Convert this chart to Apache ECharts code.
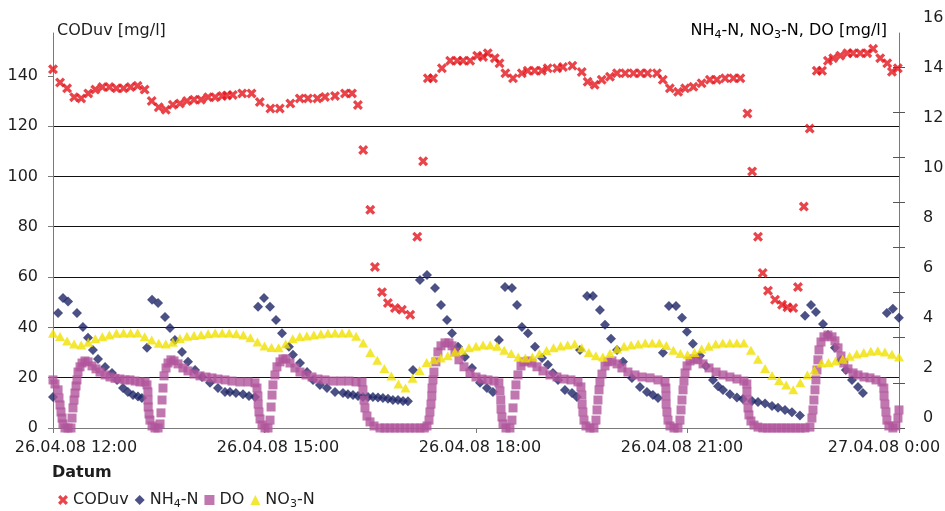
<!DOCTYPE html>
<html>
<head>
<meta charset="utf-8">
<script src="https://cdn.jsdelivr.net/npm/echarts@6.0.0/dist/echarts.min.js"></script>
<style>
  html, body { margin: 0; padding: 0; background: #fff; }
  #chart-container { width: 945px; height: 511px; }
</style>
</head>
<body>
<div id="chart-container"></div>
<script>
// time is in minutes after 26.04.08 12:00
var xTickLabels = ["26.04.08 12:00", "26.04.08 15:00", "26.04.08 18:00", "26.04.08 21:00", "27.04.08 0:00"];
var leftTicks = [0, 20, 40, 60, 80, 100, 120, 140];
var rightTicks = [0, 2, 4, 6, 8, 10, 12, 14, 16];

// CODuv [mg/l], left axis
var codPoints = [
  [0,142.6],[6,137.3],[12,135],[18,131.5],[24,131],[30,133],[36,134.5],[42,135.5],[48,135.5],[54,135],
  [60,135],[66,135.5],[72,136],[78,134.5],[84,130],[90,127.5],[96,126.5],[102,128.5],[108,129],[114,130],
  [120,130.5],[126,130.5],[132,131.5],[138,131.5],[144,132],[148,132.2],[153,132.4],[161,133],[169,133],[176,129.6],
  [185,127],[193,127],[202,129],[210,131],[217,131],[225,131],[231.5,131.6],[240,132],[248.5,133],[254.5,133],
  [259.5,128.4],[264,110.5],[270,86.7],[274,64],[280,54],[285,49.7],[291,47.7],[297,47],[304,45],[310,76],
  [315,106],[319,139],[323.5,139],[331,143],[338,146],[344,146],[349,146],[355,146],[361,148],[366,147.5],
  [370,149],[376,147],[380,145],[385,141],[391.5,139],[399,141],[404,142],[410,142],[416,142],[421,143],
  [429,143],[434,143.5],[442,144],[450,141.5],[455,137.6],[461,136.4],[467,138.4],[474,139.6],[480,141],[487,141],
  [494,141],[500,141],[506,141],[514,141],[519,138.4],[525,135],[532,133.6],[538,135],[545,135.6],[552,137],
  [559,138.4],[565,138.4],[572,139],[579,139],[585,139],[591,125],[595,102],[600,76],[604,61.6],[608.5,54.6],
  [614.5,51],[620.5,49],[625,48],[630,47.7],[634,56],[639,88],[644,119],[650,142],[654.5,142],[659.5,146],
  [664,147],[670,148],[676,149],[681,149],[687,149],[693,149],[698,150.7],[704,147],[710,145],[714,141.6],[719,143]
];

// NH4-N [mg/l], right axis
var nh4Points = [
  [0,1.37],[4.3,5.1],[8.5,5.76],[12.8,5.6],[20.4,5.1],[25.5,4.48],[29.8,4.0],[34,3.46],[38.3,3.06],[44.3,2.7],
  [50.2,2.44],[54.5,2.13],[59.6,1.77],[63.8,1.6],[68.1,1.46],[72.3,1.4],[75.7,1.33],
  [80,3.55],[84.3,5.68],[89.4,5.54],[95.3,4.92],[99.6,4.43],[103.8,3.9],[109.8,3.37],[114.9,2.93],[120.9,2.57],
  [126.8,2.26],[133.6,2.0],[140.4,1.77],[146.4,1.6],[150.6,1.6],[155.7,1.55],[161.7,1.5],[166.8,1.42],[171.9,1.37],
  [174.5,5.37],[179.6,5.76],[184.7,5.37],[189.8,4.79],[194.9,4.2],[200.8,3.6],[204.2,3.24],[210.2,2.88],[216.2,2.48],
  [221.3,2.13],[227.2,1.9],[233.2,1.77],[240,1.6],[246.8,1.55],[251,1.5],[255.3,1.46],[259.6,1.42],[263.8,1.37],
  [268.1,1.37],[272.3,1.37],[276.6,1.35],[280.8,1.33],[285.1,1.3],[289.3,1.24],[293.6,1.24],[297.9,1.2],[302.1,1.18],
  [306.4,2.57],[312.3,6.56],[318.3,6.78],[325.1,6.2],[330.2,5.45],[335.3,4.79],[339.6,4.2],[344.7,3.6],[350.6,3.15],
  [356.6,2.66],[363.4,2.0],[369.3,1.77],[374.4,1.6],
  [379.5,3.9],[384.7,6.25],[390.6,6.2],[394.9,5.45],[399.1,4.48],[404.2,4.2],[410.2,3.6],[416.2,3.1],[421.2,2.8],
  [425.5,2.44],[429.8,2.13],[435.7,1.68],[441.7,1.55],[445.9,1.37],
  [448.5,3.46],[454.5,5.85],[459.5,5.85],[465.5,5.23],[469.8,4.57],[474.9,3.95],[480,3.46],[485.1,2.93],[492.7,2.22],
  [499.5,1.82],[505.5,1.6],[510.6,1.46],[514.9,1.33],
  [519.1,3.33],[524.2,5.41],[530.2,5.41],[535.3,4.88],[539.5,4.26],[544.6,3.73],[550.6,3.2],[555.7,2.75],[561.7,2.13],
  [566,1.85],[570.2,1.68],[576.1,1.5],[582.1,1.35],[587.2,1.28],[594.9,1.2],[600,1.15],[606,1.08],[611.9,0.98],
  [617,0.9],[623,0.8],[628.9,0.7],[635.7,0.55],
  [640,4.97],[645.1,5.45],[649.3,5.14],[655.3,4.61],[659.5,4.12],[665.5,3.55],[670.6,3.0],[674.8,2.57],[680,2.13],
  [685.1,1.82],[689.3,1.55],
  [709.7,5.1],[714.8,5.28],[719.9,4.88]
];

// DO [mg/l], right axis
var doPoints = [
  [0,2.13],[1.7,1.95],[4.3,1.69],[5.1,1.33],[6.0,1.02],[6.8,0.71],[7.7,0.44],[8.5,0.18],[10.2,0],[12.8,0],
  [15.3,0],[16.2,0.44],[17.0,0.89],[17.9,1.24],[18.7,1.55],[19.6,1.86],[20.4,2.13],[21.3,2.48],[23.0,2.71],[24.7,2.88],
  [27.2,2.97],[29.8,2.93],[33.2,2.75],[36.6,2.62],[40.0,2.48],[44.3,2.35],[48.5,2.26],[52.8,2.2],[57.0,2.17],[61.3,2.13],
  [65.5,2.13],[69.8,2.08],[74.0,2.04],[78.3,2.04],[80.0,1.91],[80.8,1.6],[80.9,1.24],[81.0,0.93],[81.7,0.62],[82.5,0.35],
  [84.3,0.09],[86.8,0],[89.4,0],[91.1,0.18],[91.9,0.67],[92.8,1.24],[93.6,1.77],[94.5,2.31],[96.2,2.66],[97.9,2.88],
  [100.4,3.02],[103.0,2.97],[106.4,2.84],[110.6,2.66],[114.9,2.53],[120.0,2.39],[125.1,2.31],[130.2,2.26],[135.3,2.22],
  [140.4,2.17],[146.4,2.13],[152.3,2.08],[159.1,2.04],[166.0,2.04],[171.9,2.0],[173.6,1.77],[174.4,1.42],[174.6,1.06],
  [175.3,0.71],[176.2,0.4],[177.9,0.13],[180.4,0],[183.0,0],[184.7,0.35],[185.6,0.93],[186.4,1.46],[187.2,1.91],
  [188.9,2.35],[190.6,2.71],[193.2,2.93],[195.7,3.06],[198.3,3.06],[201.7,2.88],[205.9,2.66],[210.2,2.48],[215.3,2.35],
  [220.4,2.26],[225.5,2.17],[231.5,2.13],[238.3,2.08],[245.1,2.08],[251.9,2.08],[257.9,2.04],[263.0,2.04],[263.8,1.69],
  [264.7,1.24],[265.5,0.89],[267.2,0.53],[269.8,0.27],[273.2,0.09],[278.3,0],[282.5,0],[286.8,0],[291,0],[295.3,0],
  [299.5,0],[303.8,0],[308,0],[312.3,0],[316,0],[318.3,0.09],[320.0,0.35],[320.8,0.71],[321.7,1.06],[322.4,1.42],
  [322.6,1.77],[323.4,2.13],[324.2,2.48],[325.9,2.93],[327.6,3.37],[330.2,3.64],[333.6,3.77],[337.0,3.77],[339.6,3.64],
  [342.1,3.37],[345.5,3.02],[349.8,2.71],[354.9,2.44],[360.0,2.26],[365.1,2.17],[370.2,2.13],[375.3,2.08],[379.5,2.0],
  [380.4,1.64],[381.1,1.24],[381.3,0.84],[382.1,0.49],[383.0,0.18],[385.5,0],[388.9,0],[390.6,0.35],[391.5,0.89],
  [393.2,1.46],[394.0,1.91],[395.7,2.35],[398.3,2.75],[400.8,2.93],[404.2,2.97],[407.6,2.88],[411.9,2.71],[417.0,2.53],
  [423.0,2.35],[428.9,2.26],[434.9,2.17],[440.8,2.13],[446.8,2.04],[449.3,1.82],[450.1,1.46],[450.3,1.06],[451.0,0.71],
  [451.9,0.35],[453.6,0.09],[457.0,0],[460.4,0],[462.1,0.35],[463.0,0.8],[463.8,1.24],[464.7,1.69],[465.5,2.04],
  [467.2,2.39],[469.8,2.75],[472.3,2.93],[475.7,2.97],[480.0,2.84],[484.2,2.66],[489.3,2.48],[495.3,2.35],[501.3,2.26],
  [508.1,2.22],[514.9,2.13],[520.8,2.04],[521.6,1.77],[521.7,1.42],[521.8,1.06],[522.5,0.71],[523.4,0.35],[525.1,0.09],
  [528.5,0],[531.9,0],[533.6,0.35],[534.5,0.8],[535.3,1.24],[536.2,1.69],[537.0,2.08],[537.9,2.44],[539.6,2.75],
  [542.1,2.97],[545.5,3.06],[548.9,3.02],[553.2,2.84],[558.3,2.66],[564.3,2.48],[570.2,2.35],[576.1,2.26],[582.1,2.17],
  [588.0,2.08],[590.5,1.95],[590.6,1.6],[590.7,1.24],[591.5,0.89],[592.3,0.58],[594.0,0.31],[596.6,0.13],[600.0,0.04],
  [604,0],[608,0],[612,0],[616,0],[620,0],[624,0],[628,0],[632,0],[636,0],[640,0],
  [644.2,0.04],[645.9,0.44],[646.8,0.8],[647.6,1.24],[648.5,1.69],[649.3,2.13],[650.2,2.57],[651.0,3.02],[651.9,3.46],
  [653.6,3.81],[656.1,4.04],[659.5,4.12],[663.0,4.04],[665.5,3.86],[668.1,3.55],[670.6,3.19],[673.1,2.88],[676.6,2.62],
  [680.9,2.44],[685.1,2.35],[690.2,2.26],[695.3,2.22],[700.4,2.13],[705.5,2.04],[707.1,1.77],[707.3,1.42],[708.0,1.06],
  [708.9,0.71],[709.7,0.35],[711.4,0.09],[714.8,0],[717.3,0.09],[719.1,0.44],[720,0.8]
];

// NO3-N [mg/l], right axis
var no3Points = [
  [0,4.2],[6,4.05],[12,3.85],[18,3.72],[24,3.68],[30,3.8],[36,3.95],[42,4.04],[48,4.12],[54,4.2],
  [60,4.21],[66,4.21],[72,4.21],[78,4.04],[84,3.9],[90,3.76],[96,3.72],[102,3.8],[108,3.97],[114,4.07],
  [120,4.1],[126,4.13],[132,4.18],[138,4.21],[144,4.21],[150,4.21],[156,4.18],[162,4.12],[168,4.0],[174,3.81],
  [180,3.63],[186,3.57],[192,3.55],[198,3.72],[204,3.95],[210,4.05],[216,4.08],[222,4.12],[228,4.16],[234,4.2],
  [240,4.21],[246,4.21],[252,4.21],[258,4.06],[264,3.77],[270,3.35],[276,3.0],[282,2.64],[288,2.3],[294,1.95],
  [300,1.77],[306,2.2],[312,2.55],[318,2.9],[324,3.02],[330,3.1],[336,3.2],[342,3.37],[348,3.45],[354,3.55],
  [360,3.62],[366,3.68],[372,3.68],[378,3.62],[384,3.45],[390,3.3],[396,3.15],[402,3.1],[408,3.15],[414,3.3],
  [420,3.43],[426,3.55],[432,3.63],[438,3.68],[444,3.72],[450,3.55],[456,3.35],[462,3.2],[468,3.15],[474,3.3],
  [480,3.5],[486,3.62],[492,3.68],[498,3.72],[504,3.77],[510,3.77],[516,3.77],[522,3.65],[528,3.45],[534,3.3],
  [540,3.24],[546,3.35],[552,3.5],[558,3.62],[564,3.72],[570,3.77],[576,3.77],[582,3.77],[588,3.77],[594,3.45],
  [600,3.05],[606,2.64],[612,2.33],[618,2.1],[624,1.9],[630,1.7],[636,2.0],[642,2.35],[648,2.57],[654,2.88],
  [660,2.9],[666,2.97],[672,3.05],[678,3.18],[684,3.28],[690,3.35],[696,3.4],[702,3.42],[708,3.37],[714,3.27],[720,3.15]
];

var FONT = "DejaVu Sans";
var TEXT = "#1e1e1e";
var AXIS = "#7a7a7a";
var crossIcon = "path://M0,2.3L2.3,0L5,2.7L7.7,0L10,2.3L7.3,5L10,7.7L7.7,10L5,7.3L2.3,10L0,7.7L2.7,5Z";

var richSub = {
  a: { fontSize: 16, fontFamily: FONT, color: TEXT, lineHeight: 20, verticalAlign: "middle" },
  s: { fontSize: 11, fontFamily: FONT, color: TEXT, lineHeight: 20, verticalAlign: "bottom" }
};

function subName(name) {
  if (name === "NH4-N") return "{a|NH}{s|4}{a|-N}";
  if (name === "NO3-N") return "{a|NO}{s|3}{a|-N}";
  return "{a|" + name + "}";
}

var dom = document.getElementById("chart-container");
var myChart = echarts.init(dom, null, { renderer: "canvas" });

var option = {
  animation: false,
  backgroundColor: "#fff",
  grid: [
    { left: 53, right: 46, top: 33, bottom: 83, containLabel: false, outerBoundsMode: "none" },
    // grid only for the tick label positions
    { left: 76, right: 61, top: 18, bottom: 93, containLabel: false, outerBoundsMode: "none" }
  ],
  xAxis: [
    {
      type: "value", gridIndex: 0, min: 0, max: 720, interval: 180,
      axisLine: { show: true, lineStyle: { color: AXIS } },
      axisTick: { show: true, length: 5, lineStyle: { color: AXIS } },
      axisLabel: { show: false },
      splitLine: { show: false }
    },
    {
      type: "value", gridIndex: 1, min: 0, max: 720, interval: 180,
      axisLine: { show: false }, axisTick: { show: false }, splitLine: { show: false },
      axisLabel: {
        margin: 22, fontSize: 16, fontFamily: FONT, color: TEXT,
        formatter: function (v) { return xTickLabels[Math.round(v / 180)]; }
      }
    }
  ],
  yAxis: [
    {
      type: "value", gridIndex: 0, position: "left", min: 0, max: 157, interval: 20,
      axisLine: { show: true, lineStyle: { color: AXIS } },
      axisTick: { show: true, length: 5, lineStyle: { color: AXIS }, customValues: leftTicks },
      axisLabel: { margin: 15, fontSize: 16, fontFamily: FONT, color: TEXT, customValues: leftTicks },
      splitLine: { show: true, showMinLine: false, showMaxLine: false, lineStyle: { color: "#111", width: 1 } }
    },
    {
      type: "value", gridIndex: 0, position: "right", min: 0, max: 17.5, interval: 2,
      axisLine: { show: true, lineStyle: { color: AXIS } },
      axisTick: { show: true, length: 6, lineStyle: { color: "#555" }, customValues: rightTicks },
      axisLabel: { show: false },
      splitLine: { show: false }
    },
    {
      type: "value", gridIndex: 0, position: "right", min: 0, max: 17.5, interval: 2,
      axisLine: { show: false },
      axisTick: { show: true, inside: true, length: 6, lineStyle: { color: "#555" }, customValues: rightTicks },
      axisLabel: { show: false },
      splitLine: { show: false }
    },
    {
      type: "value", gridIndex: 1, position: "right", min: 0, max: 16, interval: 2,
      axisLine: { show: false }, axisTick: { show: false }, splitLine: { show: false },
      axisLabel: { margin: 39, fontSize: 16, fontFamily: FONT, color: TEXT }
    }
  ],
  legend: {
    left: 53, top: 487, itemWidth: 10, itemHeight: 10, itemGap: 6,
    textStyle: { fontSize: 16, fontFamily: FONT, color: TEXT, rich: richSub },
    formatter: subName,
    data: [
      { name: "CODuv", icon: crossIcon },
      { name: "NH4-N", icon: "diamond" },
      { name: "DO", icon: "rect" },
      { name: "NO3-N", icon: "triangle" }
    ]
  },
  graphic: [
    { type: "text", style: { x: 57, y: 31, text: "CODuv [mg/l]", fontSize: 16, fontFamily: FONT, fill: TEXT, verticalAlign: "middle" } },
    {
      type: "text",
      style: {
        x: 887, y: 31, align: "right", verticalAlign: "middle",
        text: "{a|NH}{s|4}{a|-N, NO}{s|3}{a|-N, DO [mg/l]}",
        rich: richSub
      }
    },
    { type: "text", style: { x: 52, y: 473, text: "Datum", fontSize: 16, fontWeight: "bold", fontFamily: FONT, fill: TEXT, verticalAlign: "middle" } }
  ],
  series: [
    {
      name: "CODuv", type: "scatter", xAxisIndex: 0, yAxisIndex: 0,
      symbol: crossIcon, symbolSize: 10, itemStyle: { color: "#e3151d" },
      data: codPoints
    },
    {
      name: "NH4-N", type: "scatter", xAxisIndex: 0, yAxisIndex: 1,
      symbol: "diamond", symbolSize: [10, 10], itemStyle: { color: "#1f2566" },
      data: nh4Points
    },
    {
      name: "DO", type: "scatter", xAxisIndex: 0, yAxisIndex: 1,
      symbol: "rect", symbolSize: 9, itemStyle: { color: "#b0559b" },
      data: doPoints
    },
    {
      name: "NO3-N", type: "scatter", xAxisIndex: 0, yAxisIndex: 1,
      symbol: "triangle", symbolSize: [10, 9], itemStyle: { color: "#f0e100" },
      data: no3Points
    }
  ]
};

myChart.setOption(option);
window.addEventListener("resize", myChart.resize);
</script>
</body>
</html>
